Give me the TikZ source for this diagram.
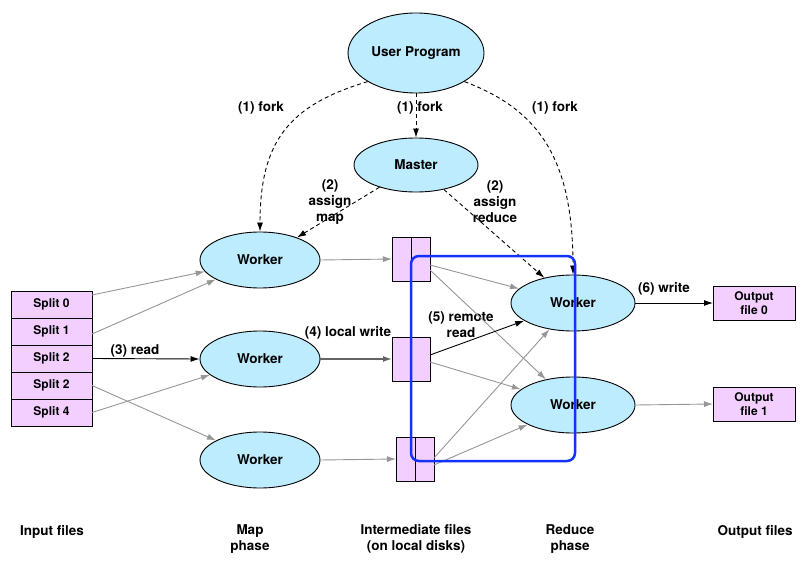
\documentclass[tikz,border=0pt]{standalone}
\usepackage{xcolor}
\usepackage{fontspec}
\setmainfont{TeX Gyre Heros}
\usepackage{tikz}
\usetikzlibrary{positioning,shapes.geometric,arrows.meta}

\definecolor{workerblue}{RGB}{188,236,254}
\definecolor{filepink}{RGB}{243,207,255}
\definecolor{regionblue}{RGB}{20,50,255}
\definecolor{arrowgray}{RGB}{150,150,150}
\definecolor{writegray}{RGB}{100,100,100}

\tikzset{
  proc/.style={ellipse, draw, fill=workerblue, inner sep=0pt, font=\fontsize{13.5}{16}\selectfont\bfseries},
  worker/.style={proc, minimum width=120pt, minimum height=56pt},
  split/.style={rectangle, draw, fill=filepink, minimum width=81pt, minimum height=27pt, inner sep=0pt, outer sep=0pt, font=\fontsize{12}{14}\selectfont\bfseries},
  half/.style={rectangle, draw, fill=filepink, minimum width=19pt, minimum height=44pt, inner sep=0pt, outer sep=0pt},
  outfile/.style={split, minimum width=82pt, minimum height=34pt, align=center},
  lbl/.style={font=\fontsize{13.5}{16}\selectfont\bfseries, align=center, inner sep=1pt},
  fork/.style={->, dash pattern=on 4pt off 3pt},
  feed/.style={->, draw=arrowgray},
}

\begin{document}
\begin{tikzpicture}[x=1pt, y=-1pt, line width=0.9pt, >={Latex[length=9pt,width=6pt]}]
    \useasboundingbox (0,0) rectangle (810,569);

    % Nodes
    \node (user) [proc, minimum width=136pt, minimum height=80pt] at (416,53) {User Program};
    \node (master) [proc, minimum width=124pt, minimum height=54pt] at (416,165) {Master};

    \node (split0) [split] at (51.5,304.5) {Split 0};
    \node (split1) [split, below=0pt of split0] {Split 1};
    \node (split2) [split, below=0pt of split1] {Split 2};
    \node (split3) [split, below=0pt of split2] {Split 2};
    \node (split4) [split, below=0pt of split3] {Split 4};

    \node (mw1) [worker] at (260,260) {Worker};
    \node (mw2) [worker] at (260,359) {Worker};
    \node (mw3) [worker] at (260,460) {Worker};

    \node (if1a) [half] at (401.5,259) {};
    \node (if1b) [half, right=0pt of if1a] {};
    \node (if2a) [half] at (401.5,359) {};
    \node (if2b) [half, right=0pt of if2a] {};
    \node (if3a) [half] at (405.5,459) {};
    \node (if3b) [half, right=0pt of if3a] {};

    \node (rw1) [worker, minimum width=124pt] at (573,303) {Worker};
    \node (rw2) [worker, minimum width=124pt] at (573,405) {Worker};

    \node (out0) [outfile] at (754,303) {Output\\file 0};
    \node (out1) [outfile] at (754,404) {Output\\file 1};

    % Labels
    \node (fork1) [lbl] at (261,108) {(1) fork};
    \node (fork2) [lbl] at (420,108) {(1) fork};
    \node (fork3) [lbl] at (555,108) {(1) fork};
    \node (amap) [lbl] at (330,202) {(2)\\assign\\map};
    \node (areduce) [lbl] at (495,202) {(2)\\assign\\reduce};
    \node (read) [lbl] at (135,351) {(3) read};
    \node (lwrite) [lbl] at (348,333) {(4) local write};
    \node (rread) [lbl] at (461,325) {(5) remote\\read};
    \node (owrite) [lbl] at (664,289) {(6) write};

    \node (inputs) [lbl] at (52,532) {Input files};
    \node (mapph) [lbl] at (250,539) {Map\\phase};
    \node (interm) [lbl] at (416,539) {Intermediate files\\(on local disks)};
    \node (reduceph) [lbl] at (570,539) {Reduce\\phase};
    \node (outputs) [lbl] at (755,532) {Output files};

    % Arrows
    \draw[fork] (user.south west) .. controls (290,105) and (260,140) .. (mw1.north);
    \draw[fork] (user) -- (master);
    \draw[fork] (user.south east) .. controls (540,110) and (573,160) .. (rw1.north);
    \draw[fork] (master) -- (mw1);
    \draw[fork] (master) -- (rw1);

    \draw[feed] ([yshift=-4pt]split0.north east) -- (mw1);
    \draw[feed] ([yshift=-2.5pt]split1.east) -- (mw1);
    \draw[->] (split2.east) -- (mw2.west);
    \draw[feed] (split3.east) -- (mw3);
    \draw[feed] (split4.east) -- (mw2);

    \draw[feed] (mw1.east) -- (if1a.west);
    \draw[->, draw=writegray, line width=1.4pt] (mw2.east) -- (if2a.west);
    \draw[feed] (mw3.east) -- (if3a.west);

    \draw[feed] ([yshift=-6pt]if1b.east) -- (rw1);
    \draw[feed] ([yshift=-11pt]if1b.east) -- (rw2);
    \draw[->] ([yshift=4pt]if2b.east) -- (rw1);
    \draw[feed] ([yshift=-3pt]if2b.east) -- (rw2);
    \draw[feed] ([yshift=1pt]if3b.east) -- (rw1);
    \draw[feed] ([yshift=-6pt]if3b.east) -- (rw2);

    \draw[->] (rw1.east) -- (out0.west);
    \draw[feed] (rw2.east) -- (out1.west);

    % Reduce region
    \draw[regionblue, line width=2.5pt, rounded corners=8pt] (411,256) rectangle (575,461);
\end{tikzpicture}
\end{document}
